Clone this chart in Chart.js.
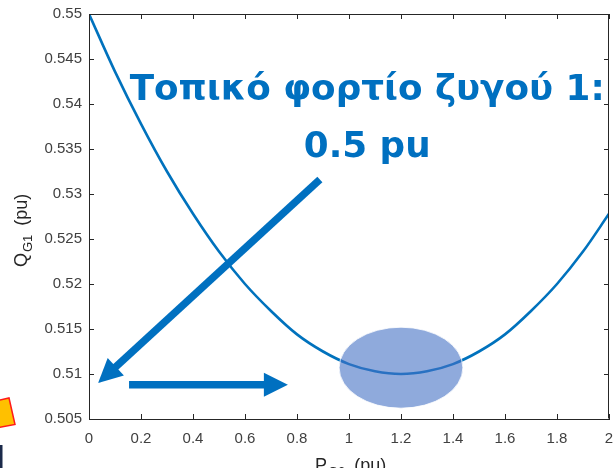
<!DOCTYPE html>
<html>
<head>
<meta charset="utf-8">
<script src="https://cdn.jsdelivr.net/npm/chart.js@4/dist/chart.umd.min.js"></script>
<style>
  html, body { margin: 0; padding: 0; background: #ffffff; }
  #wrap { width: 616px; height: 468px; position: relative; }
</style>
</head>
<body>
<div id="wrap"><canvas id="c" width="616" height="468"></canvas></div>
<script>
// ---- data ----
const pValues = [0, 0.1, 0.2, 0.3, 0.4, 0.5, 0.6, 0.7, 0.8, 0.9, 1.0, 1.1, 1.2, 1.3, 1.4, 1.5, 1.6, 1.7, 1.8, 1.9, 2.0];
const qValues = [0.5500, 0.5436, 0.5378, 0.5325, 0.5278, 0.5236, 0.5200, 0.5170, 0.5144, 0.5125, 0.5111, 0.5103, 0.5100, 0.5103, 0.5111, 0.5125, 0.5144, 0.5170, 0.5200, 0.5236, 0.5278];
const xTickValues = [0, 0.2, 0.4, 0.6, 0.8, 1.0, 1.2, 1.4, 1.6, 1.8, 2.0];
const xTickLabels = ['0', '0.2', '0.4', '0.6', '0.8', '1', '1.2', '1.4', '1.6', '1.8', '2'];
const yTickValues = [0.505, 0.51, 0.515, 0.52, 0.525, 0.53, 0.535, 0.54, 0.545, 0.55];
const yTickLabels = ['0.505', '0.51', '0.515', '0.52', '0.525', '0.53', '0.535', '0.54', '0.545', '0.55'];
const annotationLines = ['Τοπικό φορτίο ζυγού 1:', '0.5 pu'];
const yTitle = { main: 'Q', sub: 'G1', rest: '(pu)' };
const xTitle = { main: 'P', sub: 'G2', rest: '(pu)' };
// highlighted region around the minimum (data units)
const highlight = { x: 1.2, y: 0.5107, rx: 0.238, ry: 0.0045 };
// arrows (data units): [fromX, fromY, toX, toY]
const arrows = [
  [0.888, 0.5316, 0.035, 0.5090],
  [0.154, 0.5088, 0.765, 0.5088]
];

const AXIS = '#262626';
const TICKTXT = '#404040';
const LINE = '#0072BD';
const ANNO = '#0070C0';

const decorations = {
  id: 'decorations',
  afterDatasetsDraw(chart) {
    const ctx = chart.ctx;
    const ca = chart.chartArea;
    const xs = chart.scales.x, ys = chart.scales.y;
    ctx.save();
    // box (top and right)
    ctx.strokeStyle = AXIS;
    ctx.lineWidth = 1;
    ctx.beginPath();
    ctx.moveTo(Math.round(ca.left) + 0.5, Math.round(ca.top) + 0.5);
    ctx.lineTo(Math.round(ca.right) - 0.5, Math.round(ca.top) + 0.5);
    ctx.lineTo(Math.round(ca.right) - 0.5, Math.round(ca.bottom) - 0.5);
    ctx.stroke();
    // inward ticks on all four sides
    const tl = 5;
    ctx.beginPath();
    xTickValues.forEach(v => {
      const px = Math.round(xs.getPixelForValue(v)) + 0.5;
      ctx.moveTo(px, ca.bottom); ctx.lineTo(px, ca.bottom - tl);
      ctx.moveTo(px, ca.top); ctx.lineTo(px, ca.top + tl);
    });
    yTickValues.forEach(v => {
      const py = Math.round(ys.getPixelForValue(v)) + 0.5;
      ctx.moveTo(ca.left, py); ctx.lineTo(ca.left + tl, py);
      ctx.moveTo(ca.right, py); ctx.lineTo(ca.right - tl, py);
    });
    ctx.stroke();

    // highlight ellipse
    const ex = xs.getPixelForValue(highlight.x), ey = ys.getPixelForValue(highlight.y);
    const erx = Math.abs(xs.getPixelForValue(highlight.x + highlight.rx) - ex);
    const ery = Math.abs(ys.getPixelForValue(highlight.y + highlight.ry) - ey);
    ctx.beginPath();
    ctx.ellipse(ex, ey, erx, ery, 0, 0, Math.PI * 2);
    ctx.fillStyle = 'rgba(68,114,196,0.6)';
    ctx.fill();
    ctx.strokeStyle = 'rgba(255,255,255,0.8)';
    ctx.lineWidth = 1;
    ctx.stroke();

    // arrows
    ctx.fillStyle = ANNO;
    ctx.strokeStyle = ANNO;
    arrows.forEach(a => {
      const x1 = xs.getPixelForValue(a[0]), y1 = ys.getPixelForValue(a[1]);
      const x2 = xs.getPixelForValue(a[2]), y2 = ys.getPixelForValue(a[3]);
      const ang = Math.atan2(y2 - y1, x2 - x1);
      const headLen = 24, headHalf = 12;
      const bx = x2 - headLen * Math.cos(ang), by = y2 - headLen * Math.sin(ang);
      ctx.lineWidth = 7.5;
      ctx.lineCap = 'butt';
      ctx.beginPath();
      ctx.moveTo(x1, y1); ctx.lineTo(bx + Math.cos(ang), by + Math.sin(ang));
      ctx.stroke();
      ctx.beginPath();
      ctx.moveTo(x2, y2);
      ctx.lineTo(bx + headHalf * Math.sin(ang), by - headHalf * Math.cos(ang));
      ctx.lineTo(bx - headHalf * Math.sin(ang), by + headHalf * Math.cos(ang));
      ctx.closePath();
      ctx.fill();
    });

    // annotation text
    ctx.font = 'bold 36px "DejaVu Sans"';
    ctx.textAlign = 'left';
    ctx.textBaseline = 'alphabetic';
    const w1 = ctx.measureText(annotationLines[0]).width;
    const sx = 475 / w1;
    const cx = xs.getPixelForValue(1.07);
    const b1 = ys.getPixelForValue(0.5404), b2 = ys.getPixelForValue(0.5341);
    [[annotationLines[0], b1], [annotationLines[1], b2]].forEach(([t, b]) => {
      const w = ctx.measureText(t).width * sx;
      ctx.save();
      ctx.translate(cx - w / 2, b);
      ctx.scale(sx, 1);
      ctx.fillText(t, 0, 0);
      ctx.restore();
    });

    // axis titles with subscripts (TeX-like spacing)
    ctx.fillStyle = AXIS;
    const big = '18px "Liberation Sans"', small = '13px "Liberation Sans"';
    function drawTitle(t) {
      let x = 0;
      ctx.font = big; ctx.fillText(t.main, x, 0); x += ctx.measureText(t.main).width + 1;
      ctx.font = small; ctx.fillText(t.sub, x, 5); x += ctx.measureText(t.sub).width + 9;
      ctx.font = big; ctx.fillText(t.rest, x, 0);
    }
    ctx.save();
    ctx.translate(27, 267);
    ctx.rotate(-Math.PI / 2);
    drawTitle(yTitle);
    ctx.restore();
    ctx.save();
    ctx.translate(315, 471);
    drawTitle(xTitle);
    ctx.restore();

    // partial slide shapes at the left edge
    ctx.beginPath();
    ctx.moveTo(-2, 400.5); ctx.lineTo(9, 398); ctx.lineTo(15, 424.5); ctx.lineTo(-2, 427.5);
    ctx.closePath();
    ctx.fillStyle = '#FFC000';
    ctx.fill();
    ctx.strokeStyle = '#FF1A1A';
    ctx.lineWidth = 1.5;
    ctx.stroke();
    ctx.fillStyle = '#1B2A4A';
    ctx.fillRect(0, 445, 2.5, 23);
    ctx.restore();
  }
};

new Chart(document.getElementById('c'), {
  type: 'line',
  data: {
    datasets: [{
      data: pValues.map((p, i) => ({ x: p, y: qValues[i] })),
      borderColor: LINE,
      borderWidth: 2.6,
      pointRadius: 0,
      fill: false,
      cubicInterpolationMode: 'monotone'
    }]
  },
  options: {
    responsive: false,
    animation: false,
    devicePixelRatio: 1,
    layout: { padding: { top: 14, right: 7, left: 0, bottom: 0 } },
    plugins: { legend: { display: false }, tooltip: { enabled: false } },
    scales: {
      x: {
        type: 'linear', min: 0, max: 2,
        afterBuildTicks: s => { s.ticks = xTickValues.map(v => ({ value: v })); },
        afterFit: s => { s.height = 49; s.paddingLeft = 0; s.paddingRight = 0; },
        ticks: {
          callback: (v, i) => xTickLabels[i],
          color: TICKTXT, font: { family: 'Liberation Sans', size: 15 },
          padding: 11, maxRotation: 0, autoSkip: false
        },
        grid: { display: true, drawOnChartArea: false, drawTicks: false },
        border: { display: true, color: AXIS, width: 1 }
      },
      y: {
        type: 'linear', min: 0.505, max: 0.55,
        afterBuildTicks: s => { s.ticks = yTickValues.map(v => ({ value: v })); },
        afterFit: s => { s.width = 89; s.paddingTop = 0; s.paddingBottom = 0; },
        ticks: {
          callback: (v, i) => yTickLabels[i],
          color: TICKTXT, font: { family: 'Liberation Sans', size: 15 },
          padding: 7, autoSkip: false
        },
        grid: { display: true, drawOnChartArea: false, drawTicks: false },
        border: { display: true, color: AXIS, width: 1 }
      }
    }
  },
  plugins: [decorations]
});
</script>
</body>
</html>
